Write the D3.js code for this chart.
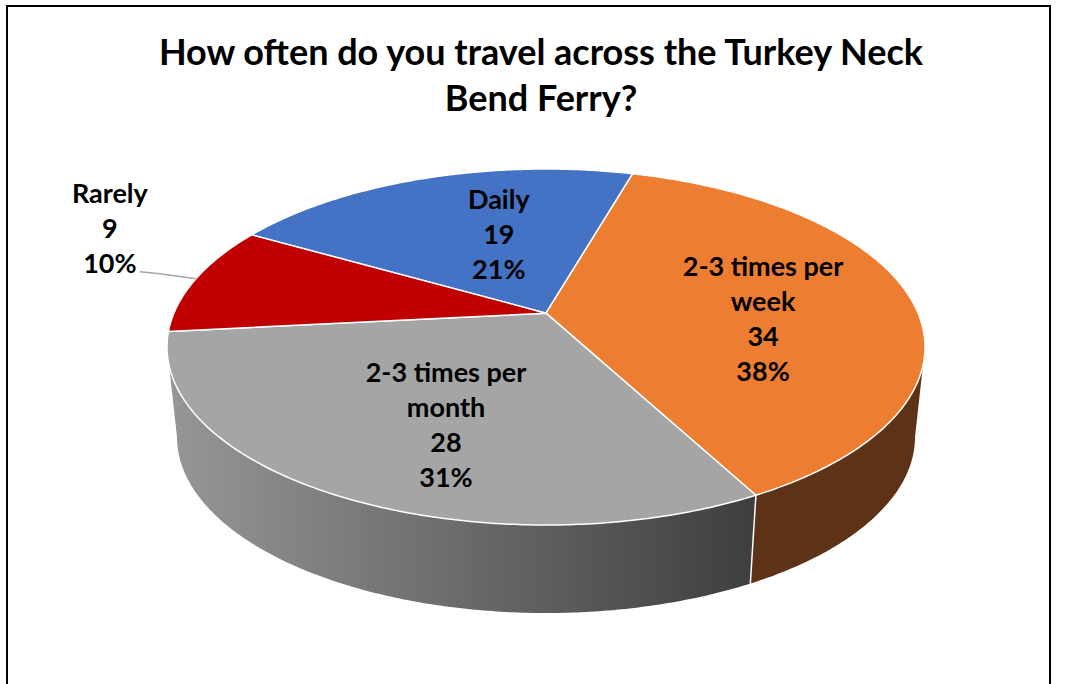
<!DOCTYPE html>
<html>
<head>
<meta charset="utf-8">
<script src="https://cdn.jsdelivr.net/npm/d3@7"></script>
<style>
  body { margin: 0; background: #fff; }
  svg { display: block; }
  text { font-family: Lato, "Open Sans", sans-serif; font-weight: 700; fill: #000; }
</style>
</head>
<body>
<svg id="chart" width="1066" height="684"></svg>
<script>
// ---- data ----
const titleLines = ["How often do you travel across the Turkey Neck", "Bend Ferry?"];
const categories = ["Daily", "2-3 times per week", "2-3 times per month", "Rarely"];
const labelNames = [["Daily"], ["2-3 times per", "week"], ["2-3 times per", "month"], ["Rarely"]];
const values = [19, 34, 28, 9];
const topColors = ["#4472c4", "#ed7d31", "#a5a5a5", "#c00000"];
const sideColors = ["#2b4a80", "#5e3216", "url(#graySide)", "#700000"];

// ---- layout ----
const W = 1066, H = 684;
const cx = 546, cyTop = 347, rx = 379, ry = 178;     // top face ellipse
const cyBot = 437, rxB = 369, ryB = 176;             // bottom rim ellipse
const tilt = -0.19;                                  // perspective shift of the pie centre
const kk = Math.sqrt(1 - tilt * tilt);
const startDeg = -60;
const lineGap = 35;
// label nudges (px) from slice centroid; Rarely sits outside with a leader
const labelNudge = [[32, 5], [18, -7], [-2, 6], [0, 0]];

const svg = d3.select("#chart");
const total = d3.sum(values);

// project a point on the pie disc (angle clockwise from 12 o'clock, radius 0..1)
function proj(theta, rho, bottom) {
  const x = rho * Math.sin(theta), y = -rho * Math.cos(theta);
  const d = 1 + tilt * y;
  const X = x * kk / d, Y = (y + tilt) / d;
  return bottom ? [cx + rxB * X, cyBot + ryB * Y] : [cx + rx * X, cyTop + ry * Y];
}
function arcPts(a0, a1, bottom) {
  const n = Math.max(2, Math.ceil(Math.abs(a1 - a0) / 0.01));
  return d3.range(n + 1).map(i => proj(a0 + (a1 - a0) * i / n, 1, bottom));
}

const pie = d3.pie().sort(null)
  .startAngle(startDeg * Math.PI / 180)
  .endAngle(startDeg * Math.PI / 180 + 2 * Math.PI);
const arcs = pie(values);

// gradient for the grey wall
const defs = svg.append("defs");
const g = defs.append("linearGradient").attr("id", "graySide")
  .attr("gradientUnits", "userSpaceOnUse")
  .attr("x1", cx - rx).attr("x2", proj(arcs[2].startAngle, 1, false)[0])
  .attr("y1", 0).attr("y2", 0);
g.append("stop").attr("offset", 0).attr("stop-color", "#979797");
g.append("stop").attr("offset", 1).attr("stop-color", "#3e3e3e");

// frame
svg.append("path")
  .attr("d", `M7,${H + 5} V6 H1050 V${H + 5}`)
  .attr("fill", "none").attr("stroke", "#000").attr("stroke-width", 2);

// title
svg.append("g").selectAll("text").data(titleLines).join("text")
  .attr("x", 541).attr("y", (d, i) => 65 + i * 46)
  .attr("text-anchor", "middle").style("font-size", "36px")
  .text(d => d);

// visible front wall range
const frontA = Math.acos(tilt), frontB = 2 * Math.PI - Math.acos(tilt);
const norm = a => { let t = a % (2 * Math.PI); if (t < 0) t += 2 * Math.PI; return t; };

const line = d3.line();
const walls = svg.append("g");
arcs.forEach((a, i) => {
  let a0 = norm(a.startAngle), a1 = a0 + (a.endAngle - a.startAngle);
  const s = Math.max(a0, frontA), e = Math.min(a1, frontB);
  if (e <= s) return;
  const pts = arcPts(s, e, false).concat(arcPts(e, s, true));
  walls.append("path").attr("d", line(pts) + "Z").attr("fill", sideColors[i]);
});
// seams between walls
arcs.forEach(a => {
  const t = norm(a.startAngle);
  if (t > frontA && t < frontB) {
    walls.append("path").attr("d", line([proj(t, 1, false), proj(t, 1, true)]))
      .attr("stroke", "#fff").attr("stroke-width", 1.5).attr("fill", "none");
  }
});

// top faces
const faces = svg.append("g");
const centroids = [];
arcs.forEach((a, i) => {
  const pts = [proj(0, 0, false)].concat(arcPts(a.startAngle, a.endAngle, false));
  faces.append("path").attr("d", line(pts) + "Z")
    .attr("fill", topColors[i]).attr("stroke", "#fff").attr("stroke-width", 1.5)
    .attr("stroke-linejoin", "round");
  centroids.push(d3.polygonCentroid(pts));
});

// labels
const labels = svg.append("g").style("font-size", "27px").attr("text-anchor", "middle");
arcs.forEach((a, i) => {
  const lines = labelNames[i].concat([String(values[i]), Math.round(values[i] / total * 100) + "%"]);
  let ax, ay;
  if (categories[i] === "Rarely") {
    const mid = (a.startAngle + a.endAngle) / 2;
    const rim = proj(mid, 1, false);
    ax = rim[0] - 86; ay = rim[1] - 50;
    const lastBase = ay - (lines.length - 1) * lineGap / 2 + 9 + (lines.length - 1) * lineGap;
    svg.append("path")
      .attr("d", line([[ax + 30, lastBase - 1], [ax + 50, lastBase + 1], rim]))
      .attr("fill", "none").attr("stroke", "#a6a6a6").attr("stroke-width", 1.5);
  } else {
    ax = centroids[i][0] + labelNudge[i][0];
    ay = centroids[i][1] + labelNudge[i][1];
  }
  const y0 = ay - (lines.length - 1) * lineGap / 2 + 9;
  labels.append("g").selectAll("text").data(lines).join("text")
    .attr("x", ax).attr("y", (d, j) => y0 + j * lineGap).text(d => d);
});
</script>
</body>
</html>
